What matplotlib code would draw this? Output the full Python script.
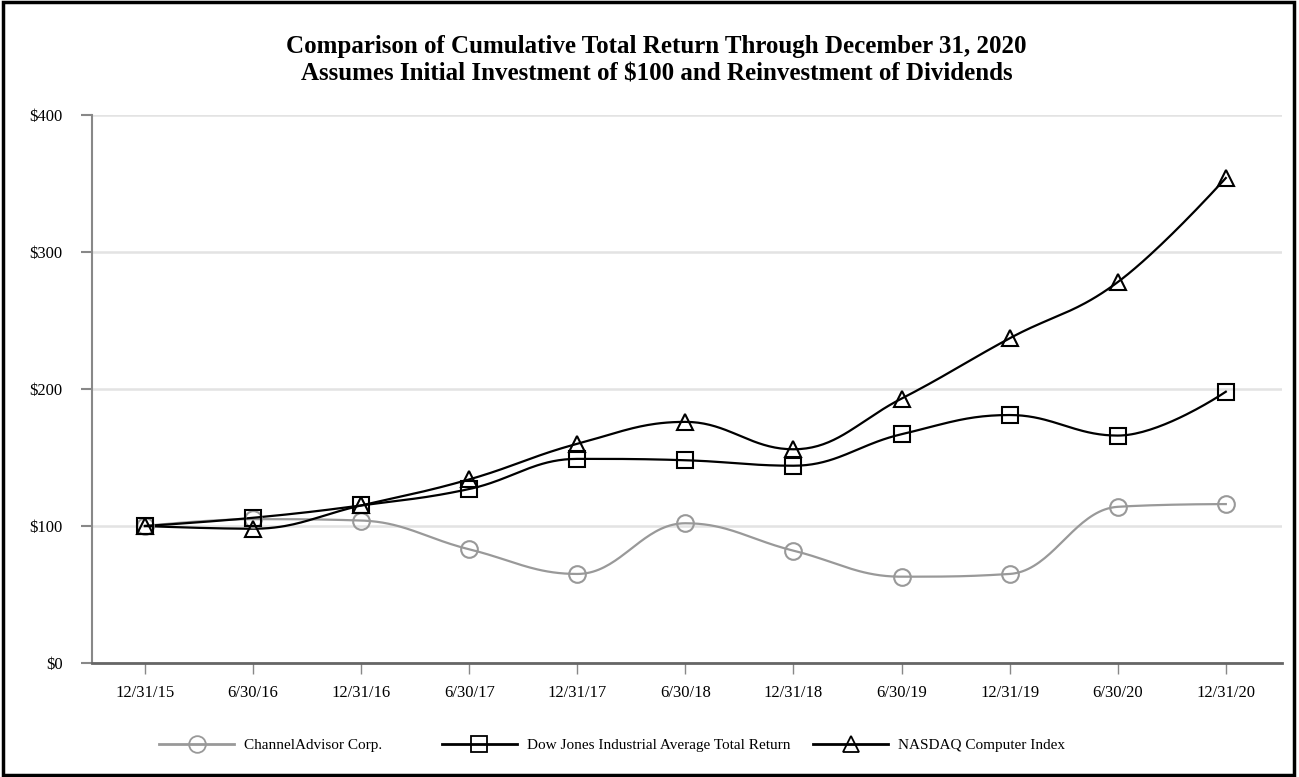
import numpy as np
import matplotlib
matplotlib.use("Agg")
import matplotlib.pyplot as plt
from matplotlib.lines import Line2D
from matplotlib.patches import Rectangle

# data
dates = ['12/31/15', '6/30/16', '12/31/16', '6/30/17', '12/31/17', '6/30/18',
         '12/31/18', '6/30/19', '12/31/19', '6/30/20', '12/31/20']
channel = [100, 105, 104, 83, 65, 102, 82, 63, 65, 114, 116]
dow = [100, 106, 115, 127, 149, 148, 144, 167, 181, 166, 198]
nasdaq = [100, 98, 115, 134, 160, 176, 156, 193, 237, 278, 354]

series_names = ['ChannelAdvisor Corp.', 'Dow Jones Industrial Average Total Return',
                'NASDAQ Computer Index']
y_ticks = [0, 100, 200, 300, 400]
y_labels = ['$0', '$100', '$200', '$300', '$400']

plt.rcParams['font.family'] = ['Liberation Serif', 'DejaVu Serif']


def spline_path(xs, ys, smoothing=1.5, n=40):
    """Smooth curve through the points (Highcharts style spline)"""
    xs = np.asarray(xs, float)
    ys = np.asarray(ys, float)
    m = len(xs)
    denom = smoothing + 1
    lc = np.zeros((m, 2))
    rc = np.zeros((m, 2))
    for i in range(m):
        if i == 0 or i == m - 1:
            lc[i] = rc[i] = (xs[i], ys[i])
            continue
        lx, ly = xs[i - 1], ys[i - 1]
        nx, ny = xs[i + 1], ys[i + 1]
        px, py = xs[i], ys[i]
        lcx = (smoothing * px + lx) / denom
        lcy = (smoothing * py + ly) / denom
        rcx = (smoothing * px + nx) / denom
        rcy = (smoothing * py + ny) / denom
        if rcx != lcx:
            corr = ((rcy - lcy) * (rcx - px)) / (rcx - lcx) + py - rcy
            lcy += corr
            rcy += corr
        if lcy > ly and lcy > py:
            lcy = max(ly, py)
            rcy = 2 * py - lcy
        elif lcy < ly and lcy < py:
            lcy = min(ly, py)
            rcy = 2 * py - lcy
        if rcy > ny and rcy > py:
            rcy = max(ny, py)
            lcy = 2 * py - rcy
        elif rcy < ny and rcy < py:
            rcy = min(ny, py)
            lcy = 2 * py - rcy
        lc[i] = (lcx, lcy)
        rc[i] = (rcx, rcy)
    t = np.linspace(0, 1, n)[:, None]
    out = []
    for i in range(m - 1):
        p0 = np.array([xs[i], ys[i]])
        p1 = rc[i]
        p2 = lc[i + 1]
        p3 = np.array([xs[i + 1], ys[i + 1]])
        seg = ((1 - t) ** 3) * p0 + 3 * ((1 - t) ** 2) * t * p1 \
            + 3 * (1 - t) * t ** 2 * p2 + t ** 3 * p3
        out.append(seg if i == 0 else seg[1:])
    out = np.vstack(out)
    return out[:, 0], out[:, 1]


fig = plt.figure(figsize=(12.99, 7.77), dpi=100)
ax = fig.add_axes([92 / 1299, 1 - 663 / 777, (1282 - 92) / 1299, (663 - 115) / 777])

x = np.arange(len(dates))
styles = [
    (channel, '#999999', 'o', 1.6),
    (dow, 'black', 's', 1.6),
    (nasdaq, 'black', '^', 1.6),
]
handles = []
for (vals, col, mk, lw), name in zip(styles, series_names):
    sx, sy = spline_path(x, vals)
    ax.plot(sx, sy, color=col, lw=lw, zorder=3)
    ax.plot(x, vals, ls='none', marker=mk, markersize=12, markerfacecolor='none',
            markeredgecolor=col, markeredgewidth=1.5, zorder=4)
    handles.append(Line2D([], [], color=col, lw=2, marker=mk, markersize=12,
                          markerfacecolor='none', markeredgecolor=col,
                          markeredgewidth=1.3, label=name))

ax.set_xlim(-0.49, 10.52)
ax.set_ylim(0, 400)
ax.set_xticks(x)
ax.set_xticklabels(dates, fontsize=12)
ax.set_yticks(y_ticks)
ax.set_yticklabels(y_labels, fontsize=12)
ax.tick_params(axis='y', length=8, width=1.5, color='#888888', pad=13)
ax.tick_params(axis='x', length=8, width=1, color='#888888', pad=8)
ax.yaxis.grid(True, color='#e3e3e3', lw=1.8)
ax.set_axisbelow(True)
for s in ['top', 'right']:
    ax.spines[s].set_visible(False)
ax.spines['left'].set_color('#888888')
ax.spines['left'].set_linewidth(1.5)
ax.spines['bottom'].set_color('#666666')
ax.spines['bottom'].set_linewidth(2)
ax.spines['left'].set_bounds(0, 400)

fig.text(0.5055, 0.940, 'Comparison of Cumulative Total Return Through December 31, 2020',
         ha='center', va='center', fontsize=18, fontweight='bold')
fig.text(0.5055, 0.905, 'Assumes Initial Investment of $100 and Reinvestment of Dividends',
         ha='center', va='center', fontsize=18, fontweight='bold')

# each legend entry anchored where it sits in the reference
for h, xa in zip(handles, [0.1225, 0.3403, 0.6260]):
    leg = fig.legend(handles=[h], loc='center left', bbox_to_anchor=(xa, 0.041),
                     frameon=False, fontsize=11, handlelength=4.9,
                     handletextpad=0.65, borderpad=0, borderaxespad=0)

fig.patches.append(Rectangle((0.002, 0.003), 0.994, 0.994, transform=fig.transFigure,
                             fill=False, edgecolor='black', lw=2.5))

fig.savefig('out.png', dpi=100)
